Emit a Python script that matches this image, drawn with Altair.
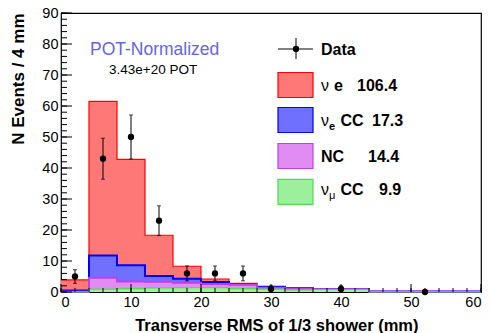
import altair as alt
import numpy as np
import pandas as pd

# ---------------- data ----------------
bin_edges = list(range(0, 61, 4))  # 15 bins of 4 mm
# per-component predictions (stacked in the picture)
numu_cc = [0.0, 0.9, 1.1, 1.3, 1.4, 1.4, 1.1, 0.9, 0.7, 0.8, 0.8, 0.05, 0.05, 0.05, 0.05]
nc = [0.1, 3.7, 2.3, 2.0, 1.6, 1.2, 1.2, 0.5, 0.3, 0.1, 0.1, 0.1, 0.1, 0.1, 0.1]
nue_cc = [0.4, 7.2, 5.2, 1.9, 1.3, 0.6, 0.1, 0.3, 0.2, 0.0, 0.0, 0.0, 0.0, 0.0, 0.0]
nue_sig = [3.4, 49.7, 34.2, 13.1, 4.0, 1.0, 0.4, 0.0, 0.0, 0.0, 0.0, 0.0, 0.0, 0.0, 0.0]

data_x = [2, 6, 10, 14, 18, 22, 26, 30, 40, 52]
data_y = [5, 43, 50, 23, 6, 6, 6, 1, 1, 0]
data_err = [2.2, 6.6, 7.1, 4.8, 2.4, 2.4, 2.4, 1.0, 1.0, 0.0]

y_major = list(range(0, 91, 10))
y_minor = list(range(0, 91, 2))
x_major = list(range(0, 61, 10))
x_minor = list(range(0, 61, 2))

legend_names = ["Data", "106.4", "17.3", "14.4", "9.9"]

# ---------------- layout ----------------
W, H = 420, 279
FONT = "Liberation Sans"

xs = alt.Scale(domain=[0, 60], nice=False, zero=False)
ys = alt.Scale(domain=[0, 90], nice=False)

x_axis = alt.Axis(values=x_major, ticks=False, domain=False, grid=False,
                  labelFont=FONT, labelFontSize=14.5, labelPadding=3, labelColor="black",
                  title="Transverse RMS of 1/3 shower (mm)", titleFont=FONT,
                  titleFontSize=16.5, titleFontWeight="bold", titleColor="black",
                  titleAlign="right", titleAnchor="end", titleX=357, titleY=38,
                  titleBaseline="alphabetic")
y_axis = alt.Axis(values=y_major, ticks=False, domain=False, grid=False,
                  labelFont=FONT, labelFontSize=14.5, labelPadding=3, labelColor="black",
                  title="N Events / 4 mm", titleFont=FONT, titleFontSize=17,
                  titleFontWeight="bold", titleColor="black", titleAngle=270,
                  titleAlign="right", titleAnchor="end", titleX=-37.5, titleY=0,
                  titleBaseline="alphabetic")


def X(field):
    return alt.X(field, type="quantitative", scale=xs, axis=x_axis)


def Y(field):
    return alt.Y(field, type="quantitative", scale=ys, axis=y_axis)


stacks = np.cumsum(np.array([numu_cc, nc, nue_cc, nue_sig]), axis=0)
# draw order: total (red) first, then blue, magenta, green on top
styles = [
    (stacks[3], "#ff7878", "#ff0000", 1.2),
    (stacks[2], "#7070ff", "#0000ff", 2.0),
    (stacks[1], "#e08cf2", "#c040e8", 2.0),
    (stacks[0], "#9cf09c", "#55d855", 1.2),
]

layers = []
for vals, fill, stroke, sw in styles:
    v = list(np.round(vals, 3))
    df = pd.DataFrame({"x": bin_edges, "y": v + [v[-1]]})
    layers.append(alt.Chart(df).mark_area(interpolate="step-after", color=fill, opacity=1)
                  .encode(x=X("x"), y=Y("y")))
    layers.append(alt.Chart(df).mark_line(interpolate="step-after", color=stroke, strokeWidth=sw)
                  .encode(x=X("x"), y=Y("y")))

# ticks drawn inward (ROOT style)
ym = pd.DataFrame({"v": y_major})
yn = pd.DataFrame({"v": y_minor})
xm = pd.DataFrame({"v": x_major})
xn = pd.DataFrame({"v": x_minor})
layers.append(alt.Chart(yn).mark_rule(color="black", strokeWidth=1).encode(
    y=Y("v"), x=alt.value(0), x2=alt.value(6)))
layers.append(alt.Chart(ym).mark_rule(color="black", strokeWidth=1).encode(
    y=Y("v"), x=alt.value(0), x2=alt.value(11)))
layers.append(alt.Chart(xn).mark_rule(color="black", strokeWidth=1).encode(
    x=X("v"), y=alt.value(H), y2=alt.value(H - 4)))
layers.append(alt.Chart(xm).mark_rule(color="black", strokeWidth=1).encode(
    x=X("v"), y=alt.value(H), y2=alt.value(H - 8)))

# data points with errors
dd = pd.DataFrame({"x": data_x, "y": data_y, "e": data_err})
dd["lo"] = dd["y"] - dd["e"]
dd["hi"] = dd["y"] + dd["e"]
de = dd[dd["e"] > 0]
layers.append(alt.Chart(de).mark_rule(color="black", strokeWidth=1).encode(
    x=X("x"), y=Y("lo"), y2=alt.Y2("hi")))
layers.append(alt.Chart(de).mark_tick(color="black", thickness=1, size=4, orient="horizontal").encode(
    x=X("x"), y=Y("lo")))
layers.append(alt.Chart(de).mark_tick(color="black", thickness=1, size=4, orient="horizontal").encode(
    x=X("x"), y=Y("hi")))
layers.append(alt.Chart(dd).mark_circle(color="black", size=40, opacity=1).encode(
    x=X("x"), y=Y("y")))

# ---------------- annotations & legend ----------------
dummy = pd.DataFrame({"a": [0]})


def txt(x, y, s, size, weight="normal", color="black"):
    return alt.Chart(dummy).mark_text(text=s, font=FONT, fontSize=size, fontWeight=weight,
                                      color=color, align="left", baseline="alphabetic").encode(
        x=alt.value(x), y=alt.value(y))


def box(x, y, fill, stroke):
    return alt.Chart(dummy).mark_rect(fill=fill, stroke=stroke, strokeWidth=1.2).encode(
        x=alt.value(x), x2=alt.value(x + 35), y=alt.value(y), y2=alt.value(y + 25))


layers.append(txt(29, 42, "POT-Normalized", 17.5, color="#6464ee"))
layers.append(txt(48, 61, "3.43e+20 POT", 13.5))

# Data entry
layers.append(alt.Chart(dummy).mark_rule(color="black", strokeWidth=1).encode(
    x=alt.value(217), x2=alt.value(252), y=alt.value(36)))
layers.append(alt.Chart(dummy).mark_rule(color="black", strokeWidth=1).encode(
    x=alt.value(235), y=alt.value(25), y2=alt.value(46)))
layers.append(alt.Chart(dummy).mark_circle(color="black", size=40, opacity=1).encode(
    x=alt.value(235), y=alt.value(36)))
layers.append(txt(260, 42, legend_names[0], 16, "bold"))

LS = 16
# nu e
layers.append(box(217, 59.5, styles[0][1], styles[0][2]))
layers.append(txt(260, 77.7, "ν", LS))
layers.append(txt(273, 77.7, "e", LS, "bold"))
layers.append(txt(296, 77.7, legend_names[1], LS, "bold"))
# nu_e CC
layers.append(box(217, 94.5, styles[1][1], styles[1][2]))
layers.append(txt(260, 113, "ν", LS))
layers.append(txt(268, 117, "e", 11, "bold"))
layers.append(txt(279.5, 113, "CC", LS, "bold"))
layers.append(txt(311, 113, legend_names[2], LS, "bold"))
# NC
layers.append(box(217, 130.5, styles[2][1], styles[2][2]))
layers.append(txt(260, 149.3, "NC", LS, "bold"))
layers.append(txt(307, 149.3, legend_names[3], LS, "bold"))
# nu_mu CC
layers.append(box(217, 166.3, styles[3][1], styles[3][2]))
layers.append(txt(260, 182, "ν", LS))
layers.append(txt(268, 186, "μ", 11))
layers.append(txt(279.5, 182, "CC", LS, "bold"))
layers.append(txt(318, 182, legend_names[4], LS, "bold"))

chart = alt.layer(*layers).properties(
    width=W, height=H,
    autosize=alt.AutoSizeParams(type="none"),
    padding={"left": 61, "top": 13, "right": 9, "bottom": 41},
    background="white",
).configure_view(stroke="black", strokeWidth=1.2)

chart.save("out.html", embed_options={"renderer": "svg", "actions": False})
